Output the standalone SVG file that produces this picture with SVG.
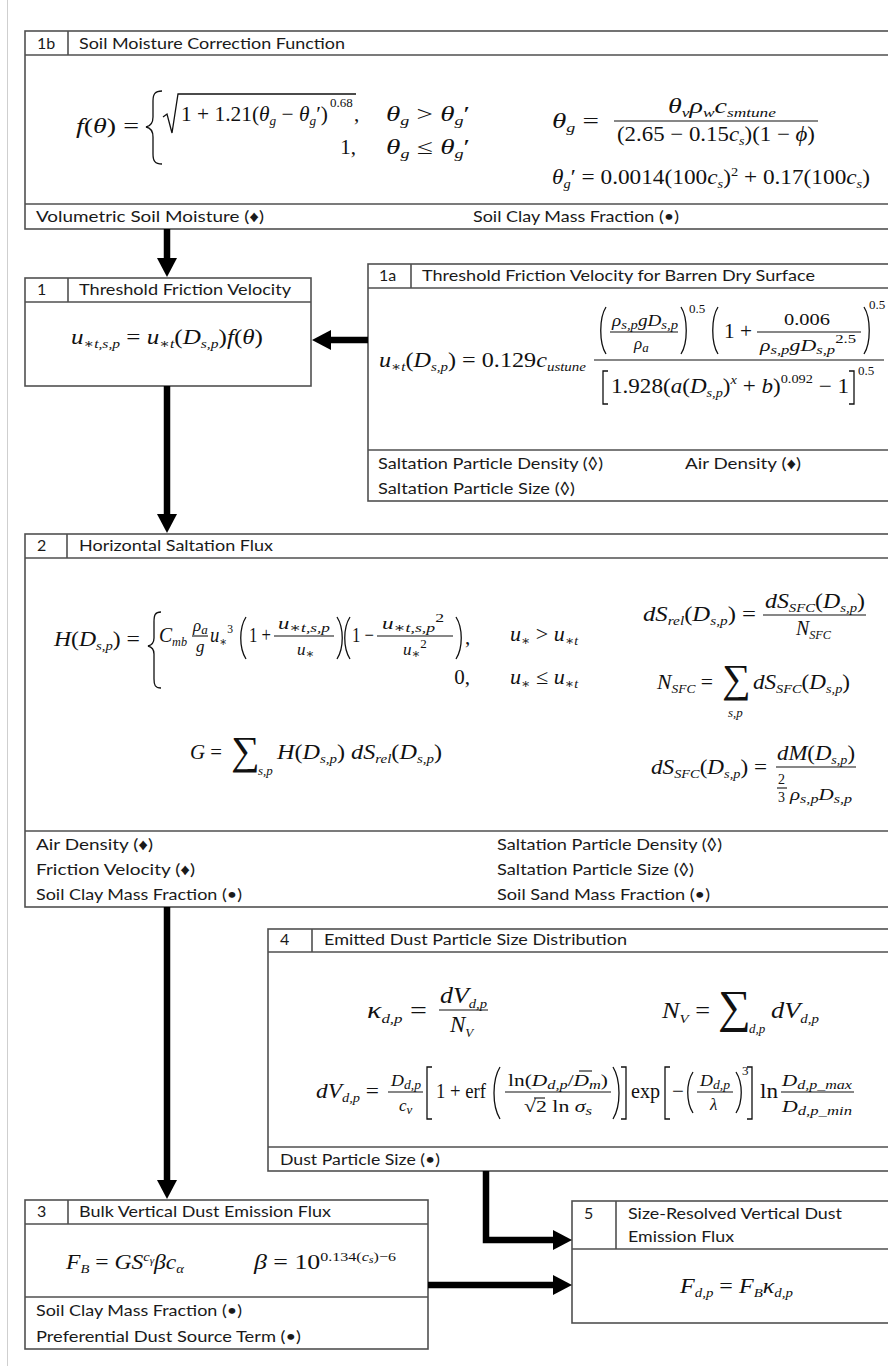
<svg xmlns="http://www.w3.org/2000/svg" width="888" height="1366" viewBox="0 0 888 1366">
<defs>
<style>
.bx{fill:#fff;stroke:#505050;stroke-width:1.6}
.ln{stroke:#505050;stroke-width:1.6;fill:none}
.t{font-family:Lato,"Liberation Sans",sans-serif;font-size:16px;fill:#1a1a1a}
.m{font-family:"Liberation Serif","DejaVu Serif",serif;font-style:italic;font-size:21px;fill:#111}
.u{font-style:normal}
.f{font-size:17px}
.s{font-size:13px}
.ss{font-size:10px}
.fb{stroke:#111;stroke-width:1.1}
.dl{fill:none;stroke:#111;stroke-width:1.3}
.ar{stroke:#000;stroke-width:6.5;fill:none;stroke-linejoin:miter}
.sum{font-family:"Liberation Serif","DejaVu Serif",serif;font-size:40px;fill:#111}
</style>
<marker id="ah" markerUnits="userSpaceOnUse" markerWidth="20" markerHeight="20" viewBox="0 0 20 20" refX="0" refY="10" orient="auto"><path d="M0,0 L19,10 L0,20 z" fill="#000"/></marker>
</defs>
<rect width="888" height="1366" fill="#fff"/>
<line x1="7.5" y1="0" x2="7.5" y2="1366" stroke="#cfcfcf" stroke-width="1"/>

<g id="n1b">
<rect class="bx" x="25" y="31" width="880" height="198"/>
<path class="ln" d="M25,55 H905 M68,31 V55 M25,204 H905"/>
<text class="t" x="37" y="49">1b</text>
<text class="t" x="79" y="49" textLength="266" lengthAdjust="spacingAndGlyphs">Soil Moisture Correction Function</text>
<text class="m" x="76" y="133" textLength="63" lengthAdjust="spacingAndGlyphs">f<tspan class="u">(</tspan>θ<tspan class="u">) =</tspan></text>
<path class="dl" d="M162,91 C155,91 153,94 153,101 L153,117 C153,123 151,126 146,127 C151,128 153,131 153,137 L153,154 C153,161 155,164 162,164"/>
<path class="dl" d="M163,117 L167,114 L172,133 L178,94 L356,94"/>
<text class="m" x="181" y="121" textLength="147" lengthAdjust="spacingAndGlyphs"><tspan class="u">1 + 1.21(</tspan>θ<tspan class="s" dy="4">g</tspan><tspan class="u" dy="-4"> − </tspan>θ<tspan class="s" dy="4">g</tspan><tspan class="u" dy="-4">′)</tspan></text>
<text class="m u s" x="330" y="107">0.68</text>
<text class="m u" x="354" y="121">,</text>
<text class="m" x="386" y="121" textLength="84" lengthAdjust="spacingAndGlyphs">θ<tspan class="s" dy="4">g</tspan><tspan class="u" dy="-4"> &gt; </tspan>θ<tspan class="s" dy="4">g</tspan><tspan class="u" dy="-4">′</tspan></text>
<text class="m u" x="356" y="154" text-anchor="end">1,</text>
<text class="m" x="386" y="154" textLength="84" lengthAdjust="spacingAndGlyphs">θ<tspan class="s" dy="4">g</tspan><tspan class="u" dy="-4"> ≤ </tspan>θ<tspan class="s" dy="4">g</tspan><tspan class="u" dy="-4">′</tspan></text>
<text class="m" x="552" y="128" textLength="47" lengthAdjust="spacingAndGlyphs">θ<tspan class="s" dy="4">g</tspan><tspan class="u" dy="-4"> =</tspan></text>
<line class="fb" x1="614" y1="121" x2="818" y2="121"/>
<text class="m" x="668" y="113" textLength="108" lengthAdjust="spacingAndGlyphs">θ<tspan class="s" dy="4">v</tspan><tspan dy="-4">ρ</tspan><tspan class="s" dy="4">w</tspan><tspan dy="-4">c</tspan><tspan class="s" dy="4">smtune</tspan></text>
<text class="m" x="617" y="141" textLength="198" lengthAdjust="spacingAndGlyphs"><tspan class="u">(2.65 − 0.15</tspan>c<tspan class="s" dy="4">s</tspan><tspan class="u" dy="-4">)(1 − </tspan>ϕ<tspan class="u">)</tspan></text>
<text class="m" x="552" y="184" textLength="318" lengthAdjust="spacingAndGlyphs">θ<tspan class="s" dy="4">g</tspan><tspan class="u" dy="-4">′ = 0.0014(100</tspan>c<tspan class="s" dy="4">s</tspan><tspan class="u" dy="-4">)</tspan><tspan class="u s" dy="-8">2</tspan><tspan class="u" dy="8"> + 0.17(100</tspan>c<tspan class="s" dy="4">s</tspan><tspan class="u" dy="-4">)</tspan></text>
<text class="t" x="36" y="222" textLength="228" lengthAdjust="spacingAndGlyphs">Volumetric Soil Moisture (♦)</text>
<text class="t" x="473" y="222" textLength="206" lengthAdjust="spacingAndGlyphs">Soil Clay Mass Fraction (•)</text>
</g>

<g id="n1">
<rect class="bx" x="25" y="278" width="286" height="108"/>
<path class="ln" d="M25,302 H311 M68,278 V302"/>
<text class="t" x="37" y="295">1</text>
<text class="t" x="79" y="295" textLength="212" lengthAdjust="spacingAndGlyphs">Threshold Friction Velocity</text>
<text class="m" x="71" y="344" textLength="192" lengthAdjust="spacingAndGlyphs">u<tspan class="s" dy="4">∗t,s,p</tspan><tspan class="u" dy="-4"> = </tspan>u<tspan class="s" dy="4">∗t</tspan><tspan class="u" dy="-4">(</tspan>D<tspan class="s" dy="4">s,p</tspan><tspan class="u" dy="-4">)</tspan>f<tspan class="u">(</tspan>θ<tspan class="u">)</tspan></text>
</g>

<g id="n1a">
<rect class="bx" x="368" y="264" width="540" height="237"/>
<path class="ln" d="M368,288 H908 M411,264 V288 M368,450 H908"/>
<text class="t" x="379" y="281">1a</text>
<text class="t" x="422" y="281" textLength="393" lengthAdjust="spacingAndGlyphs">Threshold Friction Velocity for Barren Dry Surface</text>
<text class="m" x="379" y="367" textLength="207" lengthAdjust="spacingAndGlyphs">u<tspan class="s" dy="4">∗t</tspan><tspan class="u" dy="-4">(</tspan>D<tspan class="s" dy="4">s,p</tspan><tspan class="u" dy="-4">) = 0.129</tspan>c<tspan class="s" dy="4">ustune</tspan></text>
<path class="dl" d="M606,307 C599,318 599,343 606,354"/>
<text class="m f" x="612" y="326" textLength="66" lengthAdjust="spacingAndGlyphs">ρ<tspan class="s" dy="3">s,p</tspan><tspan dy="-3">gD</tspan><tspan class="s" dy="3">s,p</tspan></text>
<line class="fb" x1="610" y1="332" x2="678" y2="332"/>
<text class="m f" x="634" y="349">ρ<tspan class="s" dy="3">a</tspan></text>
<path class="dl" d="M681,307 C688,318 688,343 681,354"/>
<text class="m u s" x="689" y="313">0.5</text>
<path class="dl" d="M718,307 C711,318 711,343 718,354"/>
<text class="m u" x="724" y="338" textLength="28" lengthAdjust="spacingAndGlyphs">1 +</text>
<text class="m u f" x="784" y="325" textLength="46" lengthAdjust="spacingAndGlyphs">0.006</text>
<line class="fb" x1="757" y1="332" x2="861" y2="332"/>
<text class="m f" x="760" y="351" textLength="96" lengthAdjust="spacingAndGlyphs">ρ<tspan class="s" dy="3">s,p</tspan><tspan dy="-3">gD</tspan><tspan class="s" dy="3">s,p</tspan><tspan class="u s" dy="-11">2.5</tspan></text>
<path class="dl" d="M864,307 C871,318 871,343 864,354"/>
<text class="m u s" x="869" y="309">0.5</text>
<line class="fb" x1="594" y1="360" x2="884" y2="360"/>
<path class="dl" d="M608,371 L603,371 L603,404 L608,404"/>
<text class="m" x="611" y="393" textLength="238" lengthAdjust="spacingAndGlyphs"><tspan class="u">1.928(</tspan>a<tspan class="u">(</tspan>D<tspan class="s" dy="4">s,p</tspan><tspan class="u" dy="-4">)</tspan><tspan class="s" dy="-9">x</tspan><tspan class="u" dy="9"> + </tspan>b<tspan class="u">)</tspan><tspan class="u s" dy="-10">0.092</tspan><tspan class="u" dy="10"> − 1</tspan></text>
<path class="dl" d="M849,371 L854,371 L854,404 L849,404"/>
<text class="m u s" x="858" y="375">0.5</text>
<text class="t" x="378" y="469" textLength="225" lengthAdjust="spacingAndGlyphs">Saltation Particle Density (◊)</text>
<text class="t" x="685" y="469" textLength="116" lengthAdjust="spacingAndGlyphs">Air Density (♦)</text>
<text class="t" x="378" y="494" textLength="197" lengthAdjust="spacingAndGlyphs">Saltation Particle Size (◊)</text>
</g>

<g id="n2">
<rect class="bx" x="25" y="534" width="880" height="373"/>
<path class="ln" d="M25,558 H905 M67,534 V558 M25,831 H905"/>
<text class="t" x="37" y="551">2</text>
<text class="t" x="79" y="551" textLength="194" lengthAdjust="spacingAndGlyphs">Horizontal Saltation Flux</text>
<text class="m" x="54" y="646" textLength="86" lengthAdjust="spacingAndGlyphs">H<tspan class="u">(</tspan>D<tspan class="s" dy="4">s,p</tspan><tspan class="u" dy="-4">) =</tspan></text>
<path class="dl" d="M161,612 C155,612 154,615 154,622 L154,638 C154,643 152,645 148,646 C152,647 154,649 154,654 L154,679 C154,685 155,688 161,688"/>
<text class="m" x="159" y="642" textLength="28" lengthAdjust="spacingAndGlyphs">C<tspan class="s" dy="4">mb</tspan></text>
<text class="m f" x="193" y="631">ρ<tspan class="s" dy="3">a</tspan></text>
<line class="fb" x1="192" y1="636" x2="208" y2="636"/>
<text class="m f" x="196" y="652">g</text>
<text class="m" x="210" y="642" textLength="23" lengthAdjust="spacingAndGlyphs">u<tspan class="s" dy="4">∗</tspan><tspan class="u s" dy="-13">3</tspan></text>
<path class="dl" d="M246,617 C239,628 239,648 246,659"/>
<text class="m u" x="249" y="642" textLength="22" lengthAdjust="spacingAndGlyphs">1 +</text>
<text class="m f" x="278" y="629" textLength="52" lengthAdjust="spacingAndGlyphs">u<tspan class="s" dy="3">∗t,s,p</tspan></text>
<line class="fb" x1="274" y1="636" x2="334" y2="636"/>
<text class="m f" x="297" y="655">u<tspan class="s" dy="3">∗</tspan></text>
<path class="dl" d="M337,617 C344,628 344,648 337,659"/>
<path class="dl" d="M350,617 C343,628 343,648 350,659"/>
<text class="m u" x="352" y="642" textLength="22" lengthAdjust="spacingAndGlyphs">1 −</text>
<text class="m f" x="382" y="629" textLength="62" lengthAdjust="spacingAndGlyphs">u<tspan class="s" dy="3">∗t,s,p</tspan><tspan class="u s" dy="-10">2</tspan></text>
<line class="fb" x1="377" y1="636" x2="453" y2="636"/>
<text class="m f" x="403" y="655">u<tspan class="s" dy="3">∗</tspan><tspan class="u s" dy="-10">2</tspan></text>
<path class="dl" d="M456,617 C463,628 463,648 456,659"/>
<text class="m u" x="465" y="644">,</text>
<text class="m" x="510" y="641" textLength="68" lengthAdjust="spacingAndGlyphs">u<tspan class="s" dy="4">∗</tspan><tspan class="u" dy="-4"> &gt; </tspan>u<tspan class="s" dy="4">∗t</tspan></text>
<text class="m u" x="470" y="684" text-anchor="end">0,</text>
<text class="m" x="510" y="684" textLength="68" lengthAdjust="spacingAndGlyphs">u<tspan class="s" dy="4">∗</tspan><tspan class="u" dy="-4"> ≤ </tspan>u<tspan class="s" dy="4">∗t</tspan></text>
<text class="m" x="643" y="621" textLength="113" lengthAdjust="spacingAndGlyphs">dS<tspan class="s" dy="4">rel</tspan><tspan class="u" dy="-4">(</tspan>D<tspan class="s" dy="4">s,p</tspan><tspan class="u" dy="-4">) =</tspan></text>
<line class="fb" x1="763" y1="615" x2="866" y2="615"/>
<text class="m" x="765" y="608" textLength="100" lengthAdjust="spacingAndGlyphs">dS<tspan class="s" dy="4">SFC</tspan><tspan class="u" dy="-4">(</tspan>D<tspan class="s" dy="4">s,p</tspan><tspan class="u" dy="-4">)</tspan></text>
<text class="m" x="796" y="635" textLength="35" lengthAdjust="spacingAndGlyphs">N<tspan class="s" dy="4">SFC</tspan></text>
<text class="m" x="657" y="689" textLength="56" lengthAdjust="spacingAndGlyphs">N<tspan class="s" dy="4">SFC</tspan><tspan class="u" dy="-4"> =</tspan></text>
<text class="sum" x="722" y="692">∑</text>
<text class="m s" x="728" y="717">s,p</text>
<text class="m" x="753" y="689" textLength="97" lengthAdjust="spacingAndGlyphs">dS<tspan class="s" dy="4">SFC</tspan><tspan class="u" dy="-4">(</tspan>D<tspan class="s" dy="4">s,p</tspan><tspan class="u" dy="-4">)</tspan></text>
<text class="m" x="190" y="759" textLength="32" lengthAdjust="spacingAndGlyphs">G<tspan class="u"> =</tspan></text>
<text class="sum" x="231" y="764">∑</text>
<text class="m s" x="258" y="775">s,p</text>
<text class="m" x="277" y="759" textLength="165" lengthAdjust="spacingAndGlyphs">H<tspan class="u">(</tspan>D<tspan class="s" dy="4">s,p</tspan><tspan class="u" dy="-4">) </tspan>dS<tspan class="s" dy="4">rel</tspan><tspan class="u" dy="-4">(</tspan>D<tspan class="s" dy="4">s,p</tspan><tspan class="u" dy="-4">)</tspan></text>
<text class="m" x="651" y="774" textLength="116" lengthAdjust="spacingAndGlyphs">dS<tspan class="s" dy="4">SFC</tspan><tspan class="u" dy="-4">(</tspan>D<tspan class="s" dy="4">s,p</tspan><tspan class="u" dy="-4">) =</tspan></text>
<line class="fb" x1="776" y1="767" x2="856" y2="767"/>
<text class="m" x="777" y="760" textLength="78" lengthAdjust="spacingAndGlyphs">dM<tspan class="u">(</tspan>D<tspan class="s" dy="4">s,p</tspan><tspan class="u" dy="-4">)</tspan></text>
<text class="m u" x="778" y="784" style="font-size:14px">2</text>
<line class="fb" x1="777" y1="788" x2="787" y2="788"/>
<text class="m u" x="778" y="802" style="font-size:14px">3</text>
<text class="m f" x="790" y="800" textLength="62" lengthAdjust="spacingAndGlyphs">ρ<tspan class="s" dy="3">s,p</tspan><tspan dy="-3">D</tspan><tspan class="s" dy="3">s,p</tspan></text>
<text class="t" x="36" y="850" textLength="117" lengthAdjust="spacingAndGlyphs">Air Density (♦)</text>
<text class="t" x="36" y="875" textLength="159" lengthAdjust="spacingAndGlyphs">Friction Velocity (♦)</text>
<text class="t" x="36" y="900" textLength="206" lengthAdjust="spacingAndGlyphs">Soil Clay Mass Fraction (•)</text>
<text class="t" x="497" y="850" textLength="225" lengthAdjust="spacingAndGlyphs">Saltation Particle Density (◊)</text>
<text class="t" x="497" y="875" textLength="197" lengthAdjust="spacingAndGlyphs">Saltation Particle Size (◊)</text>
<text class="t" x="497" y="900" textLength="213" lengthAdjust="spacingAndGlyphs">Soil Sand Mass Fraction (•)</text>
</g>

<g id="n4">
<rect class="bx" x="268" y="929" width="640" height="242"/>
<path class="ln" d="M268,952 H908 M312,929 V952 M268,1147 H908"/>
<text class="t" x="280" y="945">4</text>
<text class="t" x="324" y="945" textLength="303" lengthAdjust="spacingAndGlyphs">Emitted Dust Particle Size Distribution</text>
<text class="m" x="367" y="1018" textLength="60" lengthAdjust="spacingAndGlyphs" style="font-size:23px">κ<tspan class="s" dy="5">d,p</tspan><tspan class="u" dy="-5"> =</tspan></text>
<line class="fb" x1="439" y1="1010" x2="488" y2="1010"/>
<text class="m" x="440" y="1003" textLength="47" lengthAdjust="spacingAndGlyphs" style="font-size:23px">dV<tspan class="s" dy="5">d,p</tspan></text>
<text class="m" x="450" y="1032" style="font-size:23px">N<tspan class="s" dy="5">V</tspan></text>
<text class="m" x="662" y="1018" textLength="48" lengthAdjust="spacingAndGlyphs" style="font-size:23px">N<tspan class="s" dy="5">V</tspan><tspan class="u" dy="-5"> =</tspan></text>
<text class="sum" x="718" y="1022" style="font-size:46px">∑</text>
<text class="m s" x="749" y="1033">d,p</text>
<text class="m" x="771" y="1018" textLength="48" lengthAdjust="spacingAndGlyphs" style="font-size:23px">dV<tspan class="s" dy="5">d,p</tspan></text>
<text class="m" x="316" y="1098" textLength="63" lengthAdjust="spacingAndGlyphs">dV<tspan class="s" dy="4">d,p</tspan><tspan class="u" dy="-4"> =</tspan></text>
<text class="m f" x="391" y="1086" textLength="30" lengthAdjust="spacingAndGlyphs">D<tspan class="s" dy="3">d,p</tspan></text>
<line class="fb" x1="388" y1="1092" x2="423" y2="1092"/>
<text class="m f" x="399" y="1111">c<tspan class="s" dy="3">v</tspan></text>
<path class="dl" d="M432,1067 L427,1067 L427,1119 L432,1119"/>
<text class="m u" x="436" y="1098" textLength="50" lengthAdjust="spacingAndGlyphs">1 + erf</text>
<path class="dl" d="M500,1067 C492,1080 492,1106 500,1119"/>
<text class="m f" x="508" y="1086" textLength="100" lengthAdjust="spacingAndGlyphs"><tspan class="u">ln(</tspan>D<tspan class="s" dy="3">d,p</tspan><tspan class="u" dy="-3">/</tspan>D<tspan class="s" dy="3">m</tspan><tspan class="u" dy="-3">)</tspan></text>
<line class="fb" x1="579" y1="1071" x2="592" y2="1071"/>
<line class="fb" x1="505" y1="1092" x2="611" y2="1092"/>
<text class="m f" x="524" y="1112" textLength="68" lengthAdjust="spacingAndGlyphs"><tspan class="u">√2 ln </tspan>σ<tspan class="s" dy="3">s</tspan></text>
<line class="fb" x1="534" y1="1098" x2="545" y2="1098"/>
<path class="dl" d="M613,1067 C621,1080 621,1106 613,1119"/>
<path class="dl" d="M621,1067 L626,1067 L626,1119 L621,1119"/>
<text class="m u" x="631" y="1098" textLength="29" lengthAdjust="spacingAndGlyphs">exp</text>
<path class="dl" d="M670,1067 L665,1067 L665,1119 L670,1119"/>
<text class="m u" x="672" y="1098">−</text>
<path class="dl" d="M693,1072 C686,1083 686,1102 693,1113"/>
<text class="m f" x="700" y="1086" textLength="30" lengthAdjust="spacingAndGlyphs">D<tspan class="s" dy="3">d,p</tspan></text>
<line class="fb" x1="697" y1="1092" x2="733" y2="1092"/>
<text class="m f" x="710" y="1110">λ</text>
<path class="dl" d="M736,1072 C743,1083 743,1102 736,1113"/>
<text class="m u s" x="742" y="1075">3</text>
<path class="dl" d="M747,1067 L752,1067 L752,1119 L747,1119"/>
<text class="m u" x="760" y="1098" textLength="18" lengthAdjust="spacingAndGlyphs">ln</text>
<text class="m f" x="782" y="1086" textLength="70" lengthAdjust="spacingAndGlyphs">D<tspan class="s" dy="3">d,p_max</tspan></text>
<line class="fb" x1="781" y1="1092" x2="854" y2="1092"/>
<text class="m f" x="782" y="1112" textLength="70" lengthAdjust="spacingAndGlyphs">D<tspan class="s" dy="3">d,p_min</tspan></text>
<text class="t" x="280" y="1165" textLength="160" lengthAdjust="spacingAndGlyphs">Dust Particle Size (•)</text>
</g>

<g id="n3">
<rect class="bx" x="25" y="1200" width="403" height="149"/>
<path class="ln" d="M25,1224 H428 M68,1200 V1224 M25,1297 H428"/>
<text class="t" x="37" y="1217">3</text>
<text class="t" x="79" y="1217" textLength="252" lengthAdjust="spacingAndGlyphs">Bulk Vertical Dust Emission Flux</text>
<text class="m" x="66" y="1269" textLength="118" lengthAdjust="spacingAndGlyphs">F<tspan class="s" dy="4">B</tspan><tspan class="u" dy="-4"> = </tspan>GS<tspan class="s" dy="-8">c</tspan><tspan class="ss" dy="3">γ</tspan><tspan dy="5">βc</tspan><tspan class="s" dy="4">α</tspan></text>
<text class="m" x="254" y="1269" textLength="142" lengthAdjust="spacingAndGlyphs">β<tspan class="u"> = 10</tspan><tspan class="u s" dy="-8">0.134(</tspan><tspan class="s">c</tspan><tspan class="ss" dy="2">s</tspan><tspan class="u s" dy="-2">)−6</tspan></text>
<text class="t" x="36" y="1316" textLength="206" lengthAdjust="spacingAndGlyphs">Soil Clay Mass Fraction (•)</text>
<text class="t" x="36" y="1342" textLength="265" lengthAdjust="spacingAndGlyphs">Preferential Dust Source Term (•)</text>
</g>

<g id="n5">
<rect class="bx" x="572" y="1201" width="336" height="122"/>
<path class="ln" d="M572,1249 H908 M616,1201 V1249"/>
<text class="t" x="584" y="1219">5</text>
<text class="t" x="628" y="1219" textLength="214" lengthAdjust="spacingAndGlyphs">Size-Resolved Vertical Dust</text>
<text class="t" x="628" y="1242" textLength="106" lengthAdjust="spacingAndGlyphs">Emission Flux</text>
<text class="m" x="680" y="1293" textLength="113" lengthAdjust="spacingAndGlyphs">F<tspan class="s" dy="4">d,p</tspan><tspan class="u" dy="-4"> = </tspan>F<tspan class="s" dy="4">B</tspan><tspan dy="-4">κ</tspan><tspan class="s" dy="4">d,p</tspan></text>
</g>

<g id="connectors">
<line class="ar" x1="167" y1="229" x2="167" y2="258" marker-end="url(#ah)"/>
<line class="ar" x1="368" y1="340" x2="331" y2="340" marker-end="url(#ah)"/>
<line class="ar" x1="167" y1="386" x2="167" y2="514" marker-end="url(#ah)"/>
<line class="ar" x1="167" y1="907" x2="167" y2="1180" marker-end="url(#ah)"/>
<polyline class="ar" points="486,1171 486,1240 553,1240" marker-end="url(#ah)"/>
<line class="ar" x1="428" y1="1285" x2="553" y2="1285" marker-end="url(#ah)"/>
</g>
</svg>
